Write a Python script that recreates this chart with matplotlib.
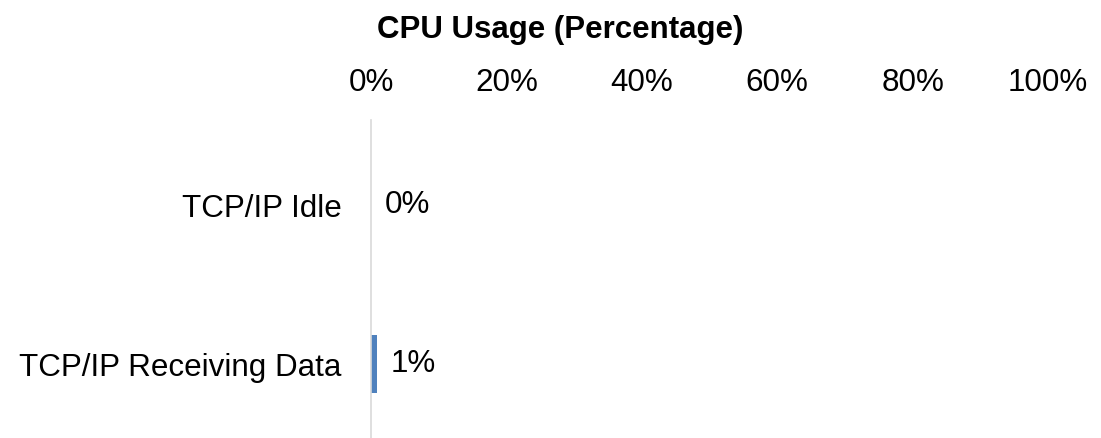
import matplotlib.pyplot as plt
from matplotlib.ticker import FuncFormatter

plt.rcParams["font.family"] = ["Liberation Sans", "DejaVu Sans"]

categories = ["TCP/IP Idle", "TCP/IP Receiving Data"]
cpu_usage = [0.0, 0.9]
x_ticks = [0, 20, 40, 60, 80, 100]

fig = plt.figure(figsize=(11.01, 4.38), dpi=100)
ax = fig.add_axes([371 / 1101, 0.0, (1048 - 371) / 1101, (438 - 120) / 438])

positions = list(range(len(categories)))
bars = ax.barh(positions, cpu_usage, height=0.365, color="#4f81bd")

for bar, value in zip(bars, cpu_usage):
    ax.text(
        bar.get_width() + 2.0,
        bar.get_y() + bar.get_height() / 2,
        f"{value:.0f}%",
        ha="left",
        va="center",
        fontsize=22.6
    )

ax.set_xlim(0, 100)
ax.set_ylim(1.465, -0.535)
ax.set_xticks(x_ticks)
ax.xaxis.set_major_formatter(FuncFormatter(lambda v, _: f"{v:.0f}%"))
ax.xaxis.tick_top()
ax.set_yticks(positions)
ax.set_yticklabels(categories)
ax.tick_params(axis="x", length=0, labelsize=22.6, pad=16)
ax.tick_params(axis="y", length=0, labelsize=22.6, pad=21)

for side in ["top", "right", "bottom"]:
    ax.spines[side].set_visible(False)
ax.spines["left"].set_color("#d9d9d9")
ax.spines["left"].set_linewidth(1.2)

fig.text(
    560 / 1101,
    1 - 30 / 438,
    "CPU Usage (Percentage)",
    ha="center",
    va="center",
    fontsize=22.5,
    fontweight="bold"
)

fig.savefig("out.png", dpi=100)
